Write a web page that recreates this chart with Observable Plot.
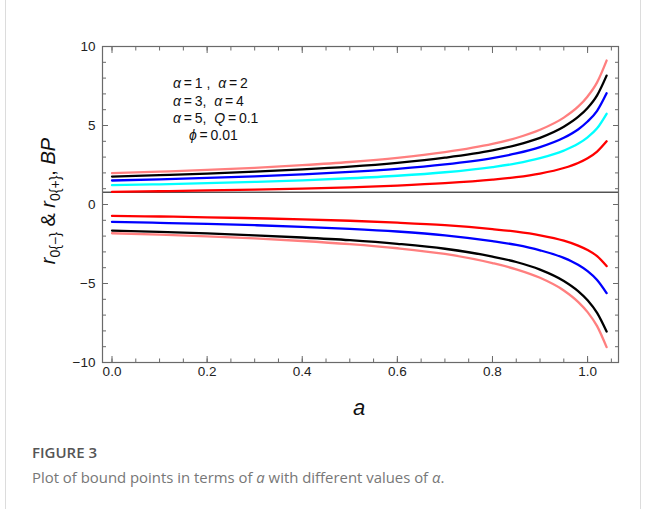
<!DOCTYPE html>
<html><head><meta charset="utf-8">
<script src="https://cdn.jsdelivr.net/npm/d3@7"></script>
<script src="https://cdn.jsdelivr.net/npm/@observablehq/plot@0.6"></script>
<style>
body{margin:0;background:#fff;}
#wrap{position:relative;width:645px;height:509px;overflow:hidden;background:#fff;}
#box{position:absolute;left:5px;top:0;width:634px;height:520px;border-left:1px solid #dcdcdc;border-right:1px solid #dcdcdc;}
#chart{position:absolute;left:0;top:0;}
.fig{position:absolute;left:32px;top:442px;font-family:"Open Sans",sans-serif;font-weight:600;font-size:15px;color:#555;}
.cap{position:absolute;left:32px;top:467px;font-family:"Open Sans",sans-serif;font-size:14.9px;color:#777;white-space:nowrap;}
</style></head><body>
<div id="wrap"><div id="box"></div><div id="chart"></div>
<div class="fig">FIGURE 3</div>
<div class="cap">Plot of bound points in terms of <i>a</i> with different values of <i>α</i>.</div>
</div>
<script>
// ---- data ----
const aValues = [0, 0.1, 0.2, 0.3, 0.4, 0.5, 0.6, 0.7, 0.8, 0.85, 0.9, 0.95, 0.98, 1.0, 1.02, 1.04];

const upperPink  = [1.98, 2.08, 2.19, 2.32, 2.49, 2.69, 2.95, 3.31, 3.83, 4.21, 4.73, 5.50, 6.19, 6.84, 7.73, 9.11];
const upperBlack = [1.77, 1.86, 1.96, 2.08, 2.22, 2.40, 2.64, 2.96, 3.42, 3.76, 4.22, 4.92, 5.54, 6.11, 6.91, 8.16];
const upperBlue  = [1.52, 1.59, 1.68, 1.78, 1.91, 2.06, 2.26, 2.54, 2.94, 3.23, 3.63, 4.22, 4.75, 5.25, 5.93, 7.04];
const upperCyan  = [1.22, 1.28, 1.35, 1.43, 1.53, 1.66, 1.82, 2.04, 2.37, 2.60, 2.93, 3.41, 3.84, 4.25, 4.82, 5.74];
const upperRed   = [0.80, 0.84, 0.89, 0.94, 1.01, 1.09, 1.20, 1.35, 1.57, 1.73, 1.96, 2.31, 2.63, 2.93, 3.35, 4.00];

const lowerRed   = [-0.72, -0.76, -0.81, -0.87, -0.94, -1.03, -1.15, -1.31, -1.56, -1.72, -1.95, -2.29, -2.60, -2.88, -3.27, -3.90];
const lowerBlue  = [-1.10, -1.16, -1.23, -1.31, -1.41, -1.54, -1.71, -1.95, -2.32, -2.56, -2.90, -3.38, -3.82, -4.22, -4.78, -5.61];
const lowerBlack = [-1.65, -1.73, -1.83, -1.95, -2.09, -2.26, -2.49, -2.80, -3.30, -3.64, -4.12, -4.84, -5.48, -6.06, -6.86, -8.04];
const lowerPink  = [-1.82, -1.91, -2.02, -2.15, -2.31, -2.51, -2.77, -3.13, -3.71, -4.10, -4.64, -5.44, -6.16, -6.81, -7.70, -9.03];

const seriesNames  = ["upperPink","upperBlack","upperBlue","upperCyan","upperRed","lowerRed","lowerBlue","lowerBlack","lowerPink"];
const seriesData   = [upperPink, upperBlack, upperBlue, upperCyan, upperRed, lowerRed, lowerBlue, lowerBlack, lowerPink];
const seriesColors = ["#ff7f7f","#000000","#0000ff","#00ffff","#ff0000","#ff0000","#0000ff","#000000","#ff7f7f"];

const axisOrigin = 0.78;           // the horizontal axis line drawn inside the frame
const xTickLabels = [0, 0.2, 0.4, 0.6, 0.8, 1.0];
const yTickLabels = [-10, -5, 0, 5, 10];
const legendLines = ["*α*\u2009=\u20091 ,  *α*\u2009=\u20092", "*α*\u2009=\u20093,  *α*\u2009=\u20094", "*α*\u2009=\u20095,  *Q*\u2009=\u20090.1", "*ϕ*\u2009=\u20090.01"];

// ---- build table ----
const rows = [];
seriesNames.forEach((k, s) => aValues.forEach((a, i) => rows.push({key: k, a, r: seriesData[s][i], color: seriesColors[s]})));

const xMinor = d3.range(0, 1.0501, 0.05);
const yMinor = d3.range(-10, 10.01, 1);
const frameStroke = "#6a6a6a";
const FONT = "'Liberation Sans', Arial, sans-serif";
const fmtY = d => d < 0 ? "\u2212" + Math.abs(d) : String(d);
const fmtX = d3.format(".1f");

const plot = Plot.plot({
  width: 645, height: 420,
  marginLeft: 102, marginRight: 27, marginTop: 46, marginBottom: 58,
  x: {domain: [-0.02, 1.065], axis: null},
  y: {domain: [-10, 10], axis: null},
  style: {fontFamily: FONT, fontSize: "13px", color: "#222", background: "transparent"},
  marks: [
    Plot.ruleY([axisOrigin], {stroke: "#000", strokeWidth: 1}),
    Plot.line(rows, {x: "a", y: "r", z: "key", stroke: "color", strokeWidth: 2.3, curve: "monotone-x"}),
    Plot.frame({stroke: frameStroke, strokeWidth: 1.2}),
    // tick labels
    Plot.text(yTickLabels, {y: d => d, frameAnchor: "left", textAnchor: "end", dx: -7, text: fmtY, fontSize: 13.5, fill: "#222", fontFamily: FONT}),
    Plot.text(xTickLabels, {x: d => d, frameAnchor: "bottom", lineAnchor: "top", dy: 4, text: fmtX, fontSize: 13.5, fill: "#222", fontFamily: FONT}),
    // inward ticks: major
    Plot.axisY({anchor: "left", ticks: yTickLabels, tickSize: -6, fill: "none", stroke: frameStroke, label: null}),
    Plot.axisY({anchor: "right", ticks: yTickLabels, tickSize: -6, fill: "none", stroke: frameStroke, label: null}),
    Plot.axisX({anchor: "bottom", ticks: xTickLabels, tickSize: -6, fill: "none", stroke: frameStroke, label: null}),
    Plot.axisX({anchor: "top", ticks: xTickLabels, tickSize: -6, fill: "none", stroke: frameStroke, label: null}),
    // inward ticks: minor
    Plot.axisY({anchor: "left", ticks: yMinor, tickSize: -4, fill: "none", stroke: frameStroke, label: null}),
    Plot.axisY({anchor: "right", ticks: yMinor, tickSize: -4, fill: "none", stroke: frameStroke, label: null}),
    Plot.axisX({anchor: "bottom", ticks: xMinor, tickSize: -3.5, fill: "none", stroke: frameStroke, label: null}),
    Plot.axisX({anchor: "top", ticks: xMinor, tickSize: -3.5, fill: "none", stroke: frameStroke, label: null})
  ]
});
document.getElementById("chart").appendChild(plot);

const svg = d3.select(plot);

// ---- annotations with mixed italic text ----
function rich(sel, str) {
  str.split("*").forEach((part, i) => {
    if (!part) return;
    sel.append("tspan").attr("font-style", i % 2 ? "italic" : "normal").style("white-space", "pre").text(part);
  });
}
const legendX = [173, 173, 173, 189];
const legendY = [88, 105.5, 123, 140];
legendLines.forEach((ln, i) => {
  const t = svg.append("text").attr("x", legendX[i]).attr("y", legendY[i]).attr("text-anchor", "start")
    .attr("font-family", FONT).attr("font-size", 14).attr("fill", "#111")
    .style("white-space", "pre");
  rich(t, ln);
});

// y-axis title
const yt = svg.append("text").attr("transform", "translate(55,201) rotate(-90)").attr("text-anchor", "middle")
  .attr("font-family", FONT).attr("font-size", 20).attr("fill", "#111");
yt.append("tspan").attr("font-style", "italic").text("r");
yt.append("tspan").attr("font-size", 14).attr("dy", 5).text("0{\u2212}");
yt.append("tspan").attr("dy", -5).style("white-space", "pre").text(" & ");
yt.append("tspan").attr("font-style", "italic").text("r");
yt.append("tspan").attr("font-size", 14).attr("dy", 5).text("0{+}");
yt.append("tspan").attr("dy", -5).style("white-space", "pre").text(", ");
yt.append("tspan").attr("font-style", "italic").text("BP");

// x-axis title
svg.append("text").attr("x", 359).attr("y", 415).attr("text-anchor", "middle")
  .attr("font-family", FONT).attr("font-size", 22).attr("font-style", "italic").attr("fill", "#111").text("a");
</script>
</body></html>
